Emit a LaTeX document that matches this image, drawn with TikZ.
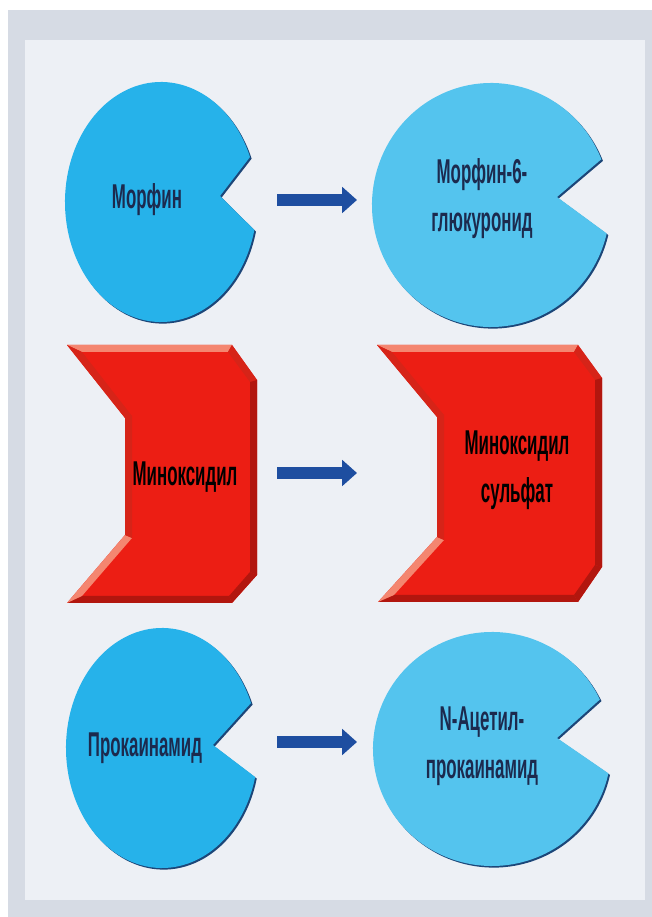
\documentclass[tikz,border=0pt]{standalone}
\usepackage{fontspec}
\usepackage{tikz}
\usetikzlibrary{arrows.meta}
\newfontfamily\narrowsans[FakeStretch=0.49]{Liberation Sans}
\definecolor{paneledge}{RGB}{214,219,228}
\definecolor{panelfill}{RGB}{237,240,245}
\definecolor{drugblue}{RGB}{38,178,234}
\definecolor{metblue}{RGB}{84,196,238}
\definecolor{blueedge}{RGB}{28,70,120}
\definecolor{textnavy}{RGB}{28,42,78}
\definecolor{drugred}{RGB}{236,30,20}
\definecolor{redlight}{RGB}{244,134,112}
\definecolor{redmid}{RGB}{214,36,24}
\definecolor{reddark}{RGB}{178,22,14}
\definecolor{arrowblue}{RGB}{30,78,160}

\begin{document}
\begin{tikzpicture}[
x=0.025cm, y=0.025cm,
pacl/.style={
fill=drugblue
},
pacr/.style={
fill=metblue
},
rim/.style={
fill=blueedge,
shift={(1.6,-1.6)}
},
redbox/.style={
fill=drugred
},
bevlight/.style={
fill=redlight
},
bevmid/.style={
fill=redmid
},
bevdark/.style={
fill=reddark
},
label/.style={
font=\narrowsans\bfseries\fontsize{24.5}{34}\selectfont,
align=center,
text=textnavy,
inner sep=0pt
},
flow/.style={
-{Triangle[length=10.5pt,width=18pt]},
line width=8.5pt,
draw=arrowblue,
shorten <=0.5cm,
shorten >=0.4cm
}
]

\useasboundingbox (0,0) rectangle (652,917);
\fill[white] (0,0) rectangle (652,917);
\fill[paneledge] (8,0) rectangle (652,907);
\fill[panelfill] (25,17) rectangle (645,877);

% top row
\fill[rim] (161,715) ++(22:96 and 120) arc[start angle=22, end angle=346.5, x radius=96, y radius=120] -- (220,721) -- cycle;
\fill[pacl] (161,715) ++(22:96 and 120) arc[start angle=22, end angle=346.5, x radius=96, y radius=120] -- (220,721) -- cycle;
\fill[rim] (491,712) ++(22:119 and 122) arc[start angle=22, end angle=346.5, x radius=119, y radius=122] -- (557,720) -- cycle;
\fill[pacr] (491,712) ++(22:119 and 122) arc[start angle=22, end angle=346.5, x radius=119, y radius=122] -- (557,720) -- cycle;

\node[label] (morphin) at (147,717) {Морфин};
\node[label] (morphinglu) at (482,718) {Морфин-6-\\глюкуронид};

\coordinate (morphinE) at (257,717);
\coordinate (morphingluW) at (373,717);
\draw[flow] (morphinE) -- (morphingluW);

% middle row
\fill[redbox] (67,572) -- (232,572) -- (257,537) -- (257,342) -- (232,314) -- (67,314) -- (125,382) -- (125,499) -- cycle;
\fill[bevlight] (67,572) -- (232,572) -- (228,565) -- (82,565) -- cycle;
\fill[bevmid] (232,572) -- (257,537) -- (250,535) -- (228,565) -- cycle;
\fill[bevdark] (257,537) -- (257,342) -- (250,345) -- (250,535) -- cycle;
\fill[bevdark] (257,342) -- (232,314) -- (229,321) -- (250,345) -- cycle;
\fill[bevdark] (232,314) -- (67,314) -- (82,321) -- (229,321) -- cycle;
\fill[bevlight] (67,314) -- (125,382) -- (132,379) -- (82,321) -- cycle;
\fill[bevmid] (125,382) -- (125,499) -- (132,501) -- (132,379) -- cycle;
\fill[bevmid] (125,499) -- (67,572) -- (82,565) -- (132,501) -- cycle;

\fill[redbox] (377,572) -- (578,572) -- (602,539) -- (602,350) -- (578,315) -- (378,315) -- (437,380) -- (437,500) -- cycle;
\fill[bevlight] (377,572) -- (578,572) -- (574,565) -- (392,565) -- cycle;
\fill[bevmid] (578,572) -- (602,539) -- (595,537) -- (574,565) -- cycle;
\fill[bevdark] (602,539) -- (602,350) -- (595,352) -- (595,537) -- cycle;
\fill[bevdark] (602,350) -- (578,315) -- (574,322) -- (595,352) -- cycle;
\fill[bevdark] (578,315) -- (378,315) -- (394,322) -- (574,322) -- cycle;
\fill[bevlight] (378,315) -- (437,380) -- (444,377) -- (394,322) -- cycle;
\fill[bevmid] (437,380) -- (437,500) -- (444,502) -- (444,377) -- cycle;
\fill[bevmid] (437,500) -- (377,572) -- (392,565) -- (444,502) -- cycle;

\node[label, text=black] (minox) at (185,440) {Миноксидил};
\node[label, text=black] (minoxsulf) at (517,447) {Миноксидил\\сульфат};

\coordinate (minoxE) at (257,444);
\coordinate (minoxsulfW) at (373,444);
\draw[flow] (minoxE) -- (minoxsulfW);

% bottom row
\fill[rim] (162,169) ++(22:96 and 120) arc[start angle=22, end angle=346, x radius=96, y radius=120] -- (213,172) -- cycle;
\fill[pacl] (162,169) ++(22:96 and 120) arc[start angle=22, end angle=346, x radius=96, y radius=120] -- (213,172) -- cycle;
\fill[rim] (492,168) ++(25:119 and 117) arc[start angle=25, end angle=348, x radius=119, y radius=117] -- (557,179) -- cycle;
\fill[pacr] (492,168) ++(25:119 and 117) arc[start angle=25, end angle=348, x radius=119, y radius=117] -- (557,179) -- cycle;

\node[label] (procain) at (145,169) {Прокаинамид};
\node[label] (acetproc) at (482,171) {N-Ацетил-\\прокаинамид};

\coordinate (procainE) at (257,175);
\coordinate (acetprocW) at (373,175);
\draw[flow] (procainE) -- (acetprocW);

\end{tikzpicture}
\end{document}
